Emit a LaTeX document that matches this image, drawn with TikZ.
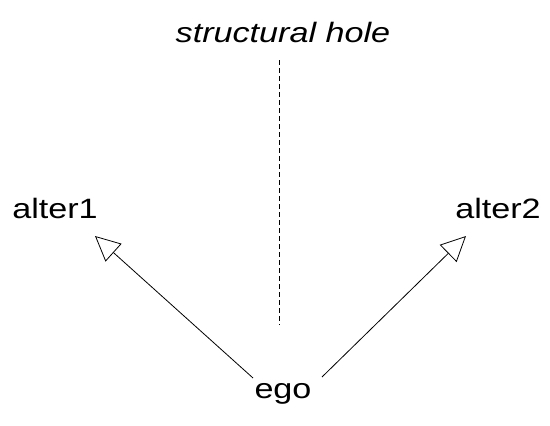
\documentclass[tikz,border=0pt]{standalone}
\usepackage{fontspec}
\setmainfont{Liberation Sans}[FakeStretch=1.22]
\usetikzlibrary{arrows.meta}
\begin{document}
\begin{tikzpicture}[x=1pt,y=-1pt,
  lbl/.style={inner sep=0pt, font=\fontsize{28}{32}\selectfont},
  tie/.style={line width=0.8pt, -{Triangle[open, length=25pt, width=24pt, line width=0.8pt]}},
  hole/.style={line width=0.9pt, dash pattern=on 5pt off 3pt}]
\useasboundingbox (0,0) rectangle (550,426);
\node[lbl, font=\fontsize{28}{32}\selectfont\itshape] (sh) at (283,32) {structural hole};
\coordinate (ht) at (279,60);
\coordinate (hb) at (279,325);
\draw[hole] (ht) -- (hb);
\node[lbl] (a1) at (55,208) {alter1};
\node[lbl] (a2) at (498,208) {alter2};
\node[lbl] (ego) at (283,394) {ego};
\coordinate (e1) at (253,378);
\coordinate (t1) at (95,236);
\coordinate (e2) at (322,377);
\coordinate (t2) at (466,236);
\draw[tie] (e1) -- (t1);
\draw[tie] (e2) -- (t2);
\end{tikzpicture}
\end{document}
